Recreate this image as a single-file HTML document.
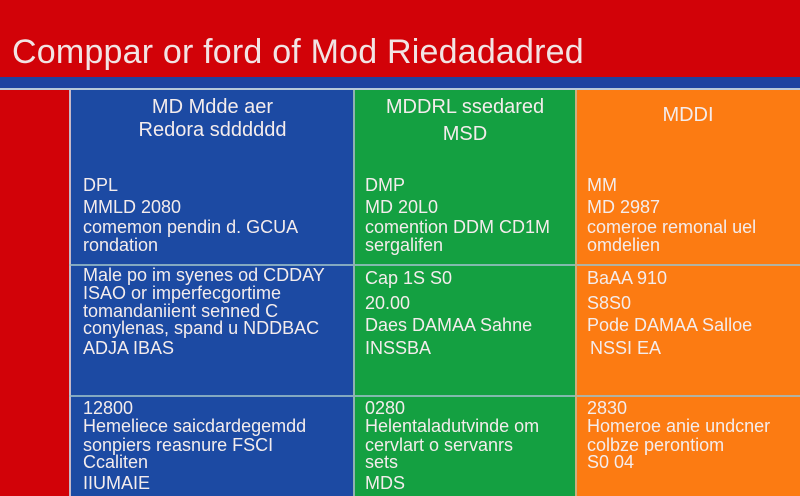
<!DOCTYPE html>
<html><head><meta charset="utf-8"><style>
body{margin:0;width:800px;height:496px;overflow:hidden;background:#d20208;font-family:"Liberation Sans",sans-serif;position:relative}
div{position:absolute}
.t{color:#f4ecec;font-size:18px;white-space:nowrap;line-height:1}
.h{color:#f4ecec;font-size:20px;white-space:nowrap;line-height:1;text-align:center}
.hl{height:2px;background:#9ec0c8;opacity:.8}
</style></head><body>
<div style="left:12px;top:33px;font-size:34px;color:#f2e4e4;white-space:nowrap;letter-spacing:0.2px">Comppar or ford of Mod Riedadadred</div>
<div style="left:0;top:77px;width:800px;height:11px;background:#1f42a0"></div>
<div style="left:0;top:88px;width:800px;height:2px;background:#b9c7d9"></div>
<div style="left:69px;top:90px;width:2px;height:406px;background:#c6b8c8"></div>
<div style="left:71px;top:90px;width:283px;height:406px;background:#1c4aa3"></div>
<div style="left:354px;top:90px;width:222px;height:406px;background:#14a041"></div>
<div style="left:576px;top:90px;width:224px;height:406px;background:#fc7b12"></div>
<div class="hl" style="left:69px;top:264px;width:731px"></div>
<div class="hl" style="left:69px;top:395px;width:731px"></div>
<div style="left:353px;top:90px;width:2px;height:406px;background:#8fb2b0"></div>
<div style="left:575px;top:90px;width:2px;height:406px;background:#c9b080"></div>

<div class="h" style="left:71px;width:283px;top:97px">MD Mdde aer</div>
<div class="h" style="left:71px;width:283px;top:120px">Redora sdddddd</div>
<div class="h" style="left:354px;width:222px;top:97px">MDDRL ssedared</div>
<div class="h" style="left:354px;width:222px;top:124px">MSD</div>
<div class="h" style="left:576px;width:224px;top:105px">MDDI</div>

<div class="t" style="left:83px;top:176px">DPL</div>
<div class="t" style="left:83px;top:198px">MMLD 2080</div>
<div class="t" style="left:83px;top:218px">comemon pendin d. GCUA</div>
<div class="t" style="left:83px;top:236px">rondation</div>
<div class="t" style="left:83px;top:266px">Male po im syenes od CDDAY</div>
<div class="t" style="left:83px;top:284px">ISAO or imperfecgortime</div>
<div class="t" style="left:83px;top:302px">tomandaniient senned C</div>
<div class="t" style="left:83px;top:319px">conylenas, spand u NDDBAC</div>
<div class="t" style="left:83px;top:339px">ADJA IBAS</div>
<div class="t" style="left:83px;top:399px">12800</div>
<div class="t" style="left:83px;top:417px">Hemeliece saicdardegemdd</div>
<div class="t" style="left:83px;top:436px">sonpiers reasnure FSCI</div>
<div class="t" style="left:83px;top:453px">Ccaliten</div>
<div class="t" style="left:83px;top:474px">IIUMAIE</div>

<div class="t" style="left:365px;top:176px">DMP</div>
<div class="t" style="left:365px;top:198px">MD 20L0</div>
<div class="t" style="left:365px;top:218px">comention DDM CD1M</div>
<div class="t" style="left:365px;top:236px">sergalifen</div>
<div class="t" style="left:365px;top:269px">Cap 1S S0</div>
<div class="t" style="left:365px;top:294px">20.00</div>
<div class="t" style="left:365px;top:316px">Daes DAMAA Sahne</div>
<div class="t" style="left:365px;top:339px">INSSBA</div>
<div class="t" style="left:365px;top:399px">0280</div>
<div class="t" style="left:365px;top:417px">Helentaladutvinde om</div>
<div class="t" style="left:365px;top:436px">cervlart o servanrs</div>
<div class="t" style="left:365px;top:453px">sets</div>
<div class="t" style="left:365px;top:474px">MDS</div>

<div class="t" style="left:587px;top:176px">MM</div>
<div class="t" style="left:587px;top:198px">MD 2987</div>
<div class="t" style="left:587px;top:218px">comeroe remonal uel</div>
<div class="t" style="left:587px;top:236px">omdelien</div>
<div class="t" style="left:587px;top:269px">BaAA 910</div>
<div class="t" style="left:587px;top:294px">S8S0</div>
<div class="t" style="left:587px;top:316px">Pode DAMAA Salloe</div>
<div class="t" style="left:590px;top:339px">NSSI EA</div>
<div class="t" style="left:587px;top:399px">2830</div>
<div class="t" style="left:587px;top:417px">Homeroe anie undcner</div>
<div class="t" style="left:587px;top:436px">colbze perontiom</div>
<div class="t" style="left:587px;top:453px">S0 04</div>
</body></html>
